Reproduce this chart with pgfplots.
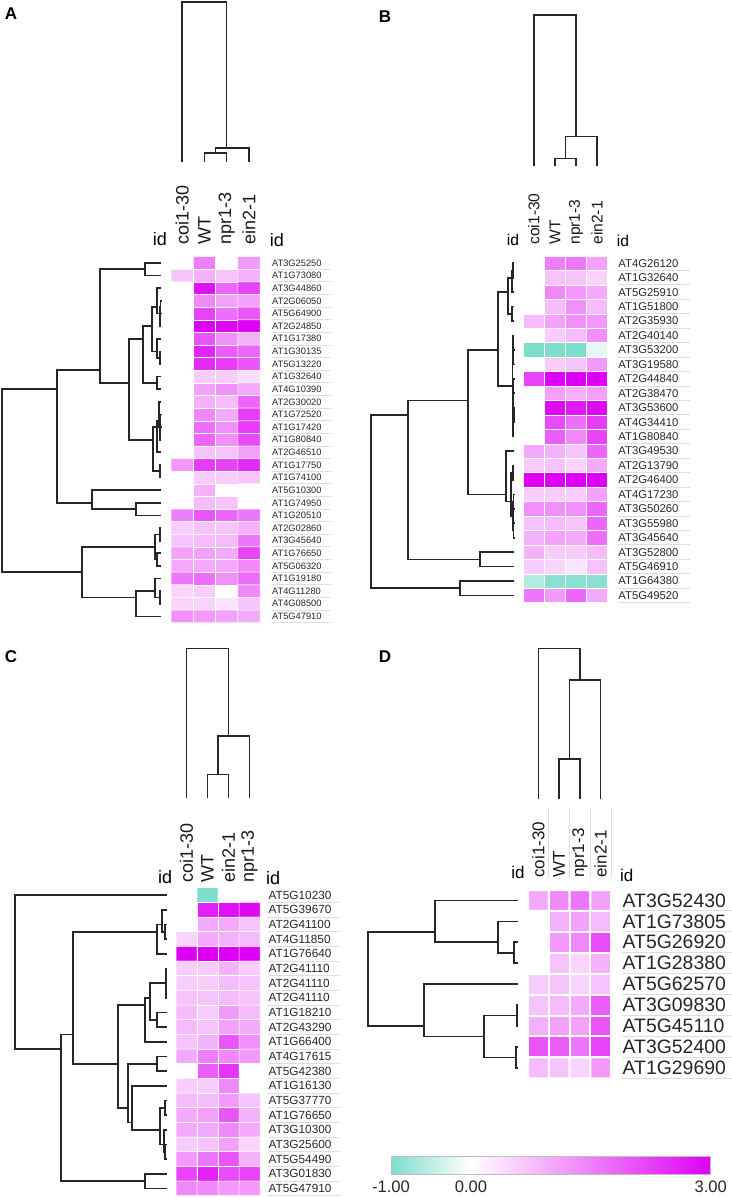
\documentclass[border=0pt]{standalone}
\usepackage{fontspec}
\setmainfont{Liberation Sans}
\usepackage{pgfplots}
\pgfplotsset{compat=1.18}
\usetikzlibrary{calc}

\pgfplotsset{
  colormap={hm}{rgb255(0cm)=(127,221,204) rgb255(1cm)=(255,255,255) rgb255(4cm)=(222,0,245)},
  heat/.style={scale only axis, anchor=north west, colormap name=hm,
    point meta min=-1, point meta max=3, y dir=reverse,
    xmin=-0.5, xmax=3.5, ymin=0.5, enlargelimits=false, clip=false,
    axis line style={draw=none}, major tick length=0pt, tick style={draw=none},
    xtick={0,1,2,3}, xticklabel pos=upper,
    xticklabel style={rotate=90, anchor=west, inner sep=0pt, text=black!90},
    yticklabel pos=upper,
    yticklabel style={anchor=west, inner sep=0pt, text=black!85}},
  dendro/.style={scale only axis, anchor=north west, hide axis, y dir=reverse,
    enlargelimits=false, clip=false},
  link/.style={color=black!85, line width=0.85pt, unbounded coords=jump, no marks},
  sepgrid/.style={scale only axis, anchor=north west, y dir=reverse, ymin=0.5,
    xmin=0, xmax=1, xtick=\empty, yticklabels={}, ymajorgrids,
    major grid style={black!13, line width=0.5pt},
    axis line style={draw=none}, tick style={draw=none}},
}

\begin{document}
\begin{tikzpicture}
\path[use as bounding box] (0pt,0pt) rectangle (366pt,-599pt);

% panel letters
\node[font=\bfseries\fontsize{8.5}{9}\selectfont] at (5.5pt,-7pt) {A};
\node[font=\bfseries\fontsize{8.5}{9}\selectfont] at (192.5pt,-8.5pt) {B};
\node[font=\bfseries\fontsize{8.5}{9}\selectfont] at (5.5pt,-328.5pt) {C};
\node[font=\bfseries\fontsize{8.5}{9}\selectfont] at (192.5pt,-328.5pt) {D};

%================ A ================
\begin{axis}[sepgrid, at={(135.5pt,-128.35pt)}, width=30pt, height=183pt,
  ymax=29.5, ytick={1.5,2.5,...,29.5}]
\end{axis}

\begin{axis}[dendro, at={(0pt,-128.35pt)}, width=85.5pt, height=183pt,
  xmin=0, xmax=171, ymin=0.5, ymax=29.5]
\addplot[link] coordinates {
(161,4)(160.5,4)(160.5,5)(161,5) (nan,nan)
(160.5,4.5)(160,4.5)(160,6)(161,6) (nan,nan)
(161,3)(156.7,3)(156.7,5)(160,5) (nan,nan)
(161,8)(160,8)(160,9)(161,9) (nan,nan)
(161,7)(156.7,7)(156.7,8.5)(160,8.5) (nan,nan)
(156.7,4.5)(151.7,4.5)(151.7,8)(156.7,8) (nan,nan)
(161,10)(157.3,10)(157.3,11)(161,11) (nan,nan)
(151.7,6)(143.3,6)(143.3,10.5)(157.3,10.5) (nan,nan)
(161,13)(160.5,13)(160.5,14)(161,14) (nan,nan)
(160.5,13.5)(160,13.5)(160,15)(161,15) (nan,nan)
(161,12)(159,12)(159,14)(160,14) (nan,nan)
(159,13.5)(157,13.5)(157,16)(161,16) (nan,nan)
(161,17)(160,17)(160,18)(161,18) (nan,nan)
(157,14)(152.7,14)(152.7,17.5)(160,17.5) (nan,nan)
(143.3,7)(129.3,7)(129.3,15)(152.7,15) (nan,nan)
(161,1)(145,1)(145,2)(161,2) (nan,nan)
(145,1.5)(100,1.5)(100,10.5)(129.3,10.5) (nan,nan)
(161,20)(136,20)(136,21)(161,21) (nan,nan)
(161,19)(92,19)(92,20.5)(136,20.5) (nan,nan)
(100,9.5)(56.7,9.5)(56.7,20)(92,20) (nan,nan)
(161,22)(160,22)(160,23)(161,23) (nan,nan)
(161,24)(157.3,24)(157.3,25)(161,25) (nan,nan)
(160,22.5)(155,22.5)(155,24.5)(157.3,24.5) (nan,nan)
(161,27)(160,27)(160,28)(161,28) (nan,nan)
(161,26)(155,26)(155,27.5)(160,27.5) (nan,nan)
(155,27)(136,27)(136,29)(161,29) (nan,nan)
(155,23.5)(82,23.5)(82,27.5)(136,27.5) (nan,nan)
(56.7,11)(1.7,11)(1.7,25.5)(82,25.5)
};
\end{axis}

\begin{axis}[dendro, at={(85.5pt,0pt)}, width=44.5pt, height=81pt,
  xmin=-0.5, xmax=3.5, ymin=0, ymax=162]
\addplot[link, line width=0.7pt] coordinates {
(1,162)(1,153)(2,153)(2,162) (nan,nan)
(1.5,153)(1.5,148)(3,148)(3,162) (nan,nan)
(0,162)(0,2)(2,2)(2,148)
};
\end{axis}

\begin{axis}[heat, at={(85.5pt,-128.35pt)}, width=44.5pt, height=183pt, ymax=29.5,
  xticklabels={coi1-30,WT,npr1-3,ein2-1}, xticklabel shift=5.85pt,
  xticklabel style={font=\fontsize{9}{9}\selectfont},
  ytick={1,...,29}, yticklabel shift=5.85pt,
  yticklabel style={font=\fontsize{4.65}{5}\selectfont},
  yticklabels={AT3G25250,AT1G73080,AT3G44860,AT2G06050,AT5G64900,AT2G24850,
    AT1G17380,AT1G30135,AT5G13220,AT1G32640,AT4G10390,AT2G30020,AT1G72520,
    AT1G17420,AT1G80840,AT2G46510,AT1G17750,AT1G74100,AT5G10300,AT1G74950,
    AT1G20510,AT2G02860,AT3G45640,AT1G76650,AT5G06320,AT1G19180,AT4G11280,
    AT4G08500,AT5G47910}]
\addplot[matrix plot*, mesh/cols=4, point meta=explicit, draw=white, line width=0.25pt]
  table[meta=c, row sep=\\] {x y c\\
0 1 0\\ 1 1 1.5\\ 2 1 0\\ 3 1 1.2\\
0 2 0.7\\ 1 2 0.9\\ 2 2 0.7\\ 3 2 0.9\\
0 3 0\\ 1 3 2.8\\ 2 3 1.8\\ 3 3 2.2\\
0 4 0\\ 1 4 1.4\\ 2 4 1.1\\ 3 4 1.1\\
0 5 0\\ 1 5 2.2\\ 2 5 1.7\\ 3 5 2.0\\
0 6 0\\ 1 6 3.0\\ 2 6 2.9\\ 3 6 3.0\\
0 7 0\\ 1 7 2.0\\ 2 7 1.3\\ 3 7 0.9\\
0 8 0\\ 1 8 2.6\\ 2 8 1.9\\ 3 8 1.8\\
0 9 0\\ 1 9 2.5\\ 2 9 2.3\\ 3 9 2.0\\
0 10 0\\ 1 10 0.6\\ 2 10 0.6\\ 3 10 0.4\\
0 11 0\\ 1 11 1.1\\ 2 11 1.3\\ 3 11 1.0\\
0 12 0\\ 1 12 0.9\\ 2 12 0.8\\ 3 12 1.8\\
0 13 0\\ 1 13 1.4\\ 2 13 1.0\\ 3 13 2.3\\
0 14 0\\ 1 14 1.7\\ 2 14 1.3\\ 3 14 2.3\\
0 15 0\\ 1 15 1.8\\ 2 15 1.3\\ 3 15 2.1\\
0 16 0\\ 1 16 0.7\\ 2 16 0.7\\ 3 16 1.1\\
0 17 1.2\\ 1 17 2.3\\ 2 17 2.2\\ 3 17 2.5\\
0 18 0\\ 1 18 0.6\\ 2 18 0.6\\ 3 18 0.7\\
0 19 0\\ 1 19 0.9\\ 2 19 0\\ 3 19 0\\
0 20 0\\ 1 20 0.8\\ 2 20 0.7\\ 3 20 0\\
0 21 1.5\\ 1 21 2.0\\ 2 21 1.8\\ 3 21 1.6\\
0 22 0.6\\ 1 22 0.7\\ 2 22 0.7\\ 3 22 0.9\\
0 23 0.7\\ 1 23 0.8\\ 2 23 0.8\\ 3 23 1.6\\
0 24 1.1\\ 1 24 1.1\\ 2 24 1.0\\ 3 24 2.2\\
0 25 1.0\\ 1 25 1.0\\ 2 25 1.0\\ 3 25 1.4\\
0 26 1.6\\ 1 26 1.7\\ 2 26 1.3\\ 3 26 1.7\\
0 27 0.5\\ 1 27 0.6\\ 2 27 0\\ 3 27 1.4\\
0 28 0.5\\ 1 28 0.5\\ 2 28 0.3\\ 3 28 0.7\\
0 29 1.3\\ 1 29 1.2\\ 2 29 1.1\\ 3 29 1.0\\
};
\node[font=\fontsize{9}{9}\selectfont, anchor=base, yshift=5.85pt] at (axis cs:-1,0.5) {id};
\node[font=\fontsize{9}{9}\selectfont, anchor=base, yshift=5pt] at (axis cs:4.26,0.5) {id};
\end{axis}

%================ B ================
\begin{axis}[sepgrid, at={(309pt,-128pt)}, width=36pt, height=173.35pt,
  ymax=24.5, ytick={1.5,2.5,...,24.5}]
\end{axis}

\begin{axis}[dendro, at={(185pt,-128pt)}, width=76.65pt, height=173.35pt,
  xmin=370, xmax=523.3, ymin=0.5, ymax=24.5]
\addplot[link] coordinates {
(514,1)(513,1)(513,2)(514,2) (nan,nan)
(513,1.5)(511.7,1.5)(511.7,3)(514,3) (nan,nan)
(514,4)(511.7,4)(511.7,5)(514,5) (nan,nan)
(511.7,2)(508.3,2)(508.3,4.5)(511.7,4.5) (nan,nan)
(514,7)(513.5,7)(513.5,8)(514,8) (nan,nan)
(514,6)(513,6)(513,7.5)(513.5,7.5) (nan,nan)
(514,9)(513.5,9)(513.5,10)(514,10) (nan,nan)
(514,11)(513.8,11)(513.8,12)(514,12) (nan,nan)
(513.8,11.5)(513.3,11.5)(513.3,13)(514,13) (nan,nan)
(513.5,9.5)(513,9.5)(513,12)(513.3,12) (nan,nan)
(513,7)(512.5,7)(512.5,11)(513,11) (nan,nan)
(508.3,3)(497.7,3)(497.7,9.5)(512.5,9.5) (nan,nan)
(514,15)(513,15)(513,16)(514,16) (nan,nan)
(514,17)(513.5,17)(513.5,18)(514,18) (nan,nan)
(514,19)(513.5,19)(513.5,20)(514,20) (nan,nan)
(513.5,17.5)(513,17.5)(513,19.5)(513.5,19.5) (nan,nan)
(513,15.5)(511,15.5)(511,18.5)(513,18.5) (nan,nan)
(514,14)(506,14)(506,17.5)(511,17.5) (nan,nan)
(497.7,7)(467.7,7)(467.7,17)(506,17) (nan,nan)
(514,21)(480,21)(480,22)(514,22) (nan,nan)
(467.7,10.5)(408.3,10.5)(408.3,21.5)(480,21.5) (nan,nan)
(514,23)(460,23)(460,24)(514,24) (nan,nan)
(408.3,11.5)(371,11.5)(371,23.5)(460,23.5)
};
\end{axis}

\begin{axis}[dendro, at={(261.65pt,0pt)}, width=42.2pt, height=82.85pt,
  xmin=-0.5, xmax=3.5, ymin=0, ymax=165.7]
\addplot[link, line width=0.7pt] coordinates {
(1,165.7)(1,158.3)(2,158.3)(2,165.7) (nan,nan)
(1.5,158.3)(1.5,136.7)(3,136.7)(3,165.7) (nan,nan)
(0,165.7)(0,15)(2,15)(2,136.7)
};
\end{axis}

\begin{axis}[heat, at={(261.65pt,-128pt)}, width=42.2pt, height=173.35pt, ymax=24.5,
  xticklabels={coi1-30,WT,npr1-3,ein2-1}, xticklabel shift=5.5pt,
  xticklabel style={font=\fontsize{7.8}{8}\selectfont},
  ytick={1,...,24}, yticklabel shift=5.15pt,
  yticklabel style={font=\fontsize{5.65}{6}\selectfont},
  yticklabels={AT4G26120,AT1G32640,AT5G25910,AT1G51800,AT2G35930,AT2G40140,
    AT3G53200,AT3G19580,AT2G44840,AT2G38470,AT3G53600,AT4G34410,AT1G80840,
    AT3G49530,AT2G13790,AT2G46400,AT4G17230,AT3G50260,AT3G55980,AT3G45640,
    AT3G52800,AT5G46910,AT1G64380,AT5G49520}]
\addplot[matrix plot*, mesh/cols=4, point meta=explicit, draw=white, line width=0.25pt]
  table[meta=c, row sep=\\] {x y c\\
0 1 0\\ 1 1 1.5\\ 2 1 1.6\\ 3 1 1.1\\
0 2 0\\ 1 2 0.7\\ 2 2 0.7\\ 3 2 0.5\\
0 3 0\\ 1 3 1.4\\ 2 3 1.2\\ 3 3 1.0\\
0 4 0\\ 1 4 0.8\\ 2 4 1.3\\ 3 4 0.8\\
0 5 0.8\\ 1 5 1.1\\ 2 5 1.3\\ 3 5 1.2\\
0 6 0\\ 1 6 0.6\\ 2 6 0.8\\ 3 6 1.3\\
0 7 -1.0\\ 1 7 -1.0\\ 2 7 -1.0\\ 3 7 -0.2\\
0 8 0\\ 1 8 0.6\\ 2 8 0.7\\ 3 8 1.2\\
0 9 2.2\\ 1 9 3.0\\ 2 9 3.0\\ 3 9 3.0\\
0 10 0\\ 1 10 1.1\\ 2 10 0.9\\ 3 10 1.1\\
0 11 0\\ 1 11 2.9\\ 2 11 2.7\\ 3 11 2.9\\
0 12 0\\ 1 12 2.1\\ 2 12 1.7\\ 3 12 2.3\\
0 13 0\\ 1 13 1.9\\ 2 13 1.4\\ 3 13 2.2\\
0 14 1.0\\ 1 14 0.9\\ 2 14 0.7\\ 3 14 1.8\\
0 15 0.6\\ 1 15 0.7\\ 2 15 0.5\\ 3 15 1.0\\
0 16 3.0\\ 1 16 3.0\\ 2 16 3.0\\ 3 16 3.0\\
0 17 0.6\\ 1 17 0.6\\ 2 17 0.6\\ 3 17 1.1\\
0 18 1.3\\ 1 18 1.3\\ 2 18 1.3\\ 3 18 1.8\\
0 19 0.7\\ 1 19 0.8\\ 2 19 0.7\\ 3 19 1.8\\
0 20 0.9\\ 1 20 1.1\\ 2 20 1.0\\ 3 20 1.7\\
0 21 0.9\\ 1 21 0.6\\ 2 21 0.6\\ 3 21 0.8\\
0 22 0.6\\ 1 22 0.5\\ 2 22 0.3\\ 3 22 0.7\\
0 23 -0.6\\ 1 23 -0.9\\ 2 23 -0.9\\ 3 23 -0.9\\
0 24 1.6\\ 1 24 1.2\\ 2 24 1.8\\ 3 24 1.0\\
};
\node[font=\fontsize{7.8}{8}\selectfont, anchor=base, yshift=5.5pt] at (axis cs:-0.99,0.5) {id};
\node[font=\fontsize{7.8}{8}\selectfont, anchor=base, yshift=5pt] at (axis cs:4.22,0.5) {id};
\end{axis}

%================ C ================
\begin{axis}[sepgrid, at={(134.15pt,-443.85pt)}, width=36pt, height=154pt,
  ymax=21.5, ytick={1.5,2.5,...,21.5}]
\end{axis}

\begin{axis}[dendro, at={(0pt,-443.85pt)}, width=88pt, height=154pt,
  xmin=0, xmax=176, ymin=0.5, ymax=21.5]
\addplot[link] coordinates {
(166.7,3)(165,3)(165,4)(166.7,4) (nan,nan)
(166.7,2)(162,2)(162,3.5)(165,3.5) (nan,nan)
(162,3)(157,3)(157,5)(166.7,5) (nan,nan)
(166.7,6)(166.3,6)(166.3,7)(166.7,7) (nan,nan)
(166.3,6.5)(166,6.5)(166,8)(166.7,8) (nan,nan)
(166.7,9)(156.7,9)(156.7,10)(166.7,10) (nan,nan)
(166,7)(150,7)(150,9.5)(156.7,9.5) (nan,nan)
(150,8)(145,8)(145,11)(166.7,11) (nan,nan)
(166.7,12)(156.7,12)(156.7,13)(166.7,13) (nan,nan)
(166.7,15)(165,15)(165,16)(166.7,16) (nan,nan)
(166.7,18)(165,18)(165,19)(166.7,19) (nan,nan)
(166.7,17)(164,17)(164,18.5)(165,18.5) (nan,nan)
(165,15.5)(160,15.5)(160,18)(164,18) (nan,nan)
(166.7,14)(131.7,14)(131.7,17)(160,17) (nan,nan)
(156.7,12.5)(128.3,12.5)(128.3,16.5)(131.7,16.5) (nan,nan)
(145,8.5)(118.3,8.5)(118.3,15.5)(128.3,15.5) (nan,nan)
(157,3.5)(73.3,3.5)(73.3,12.5)(118.3,12.5) (nan,nan)
(166.7,20)(145,20)(145,21)(166.7,21) (nan,nan)
(73.3,10.5)(61,10.5)(61,20.5)(145,20.5) (nan,nan)
(166.7,1)(15,1)(15,11.5)(61,11.5)
};
\end{axis}

\begin{axis}[dendro, at={(88pt,-320pt)}, width=42pt, height=79.15pt,
  xmin=-0.5, xmax=3.5, ymin=640, ymax=798.3]
\addplot[link, line width=0.7pt] coordinates {
(1,798.3)(1,774.3)(2,774.3)(2,798.3) (nan,nan)
(1.5,774.3)(1.5,736)(3,736)(3,798.3) (nan,nan)
(0,798.3)(0,648.3)(2,648.3)(2,736)
};
\end{axis}

\begin{axis}[heat, at={(88pt,-443.85pt)}, width=42pt, height=154pt, ymax=21.5,
  xticklabels={coi1-30,WT,ein2-1,npr1-3}, xticklabel shift=2.3pt,
  xticklabel style={font=\fontsize{9}{9}\selectfont},
  ytick={1,...,21}, yticklabel shift=4.15pt,
  yticklabel style={font=\fontsize{5.9}{6}\selectfont},
  yticklabels={AT5G10230,AT5G39670,AT2G41100,AT4G11850,AT1G76640,AT2G41110,
    AT2G41110,AT2G41110,AT1G18210,AT2G43290,AT1G66400,AT4G17615,AT5G42380,
    AT1G16130,AT5G37770,AT1G76650,AT3G10300,AT3G25600,AT5G54490,AT3G01830,
    AT5G47910}]
\addplot[matrix plot*, mesh/cols=4, point meta=explicit, draw=white, line width=0.25pt]
  table[meta=c, row sep=\\] {x y c\\
0 1 0\\ 1 1 -1.0\\ 2 1 0\\ 3 1 0\\
0 2 0\\ 1 2 2.6\\ 2 2 2.8\\ 3 2 2.9\\
0 3 0\\ 1 3 1.0\\ 2 3 1.0\\ 3 3 0.7\\
0 4 0.5\\ 1 4 1.0\\ 2 4 0.9\\ 3 4 0.8\\
0 5 3.0\\ 1 5 3.0\\ 2 5 3.0\\ 3 5 3.0\\
0 6 0.6\\ 1 6 0.6\\ 2 6 0.9\\ 3 6 0.6\\
0 7 0.6\\ 1 7 0.6\\ 2 7 0.8\\ 3 7 0.7\\
0 8 0.7\\ 1 8 0.7\\ 2 8 0.8\\ 3 8 0.7\\
0 9 0.8\\ 1 9 0.6\\ 2 9 1.2\\ 3 9 0.8\\
0 10 0.8\\ 1 10 0.7\\ 2 10 1.1\\ 3 10 1.0\\
0 11 0.7\\ 1 11 0.9\\ 2 11 2.0\\ 3 11 1.3\\
0 12 1.0\\ 1 12 1.5\\ 2 12 1.4\\ 3 12 1.2\\
0 13 0\\ 1 13 1.9\\ 2 13 2.4\\ 3 13 0\\
0 14 0.6\\ 1 14 0.6\\ 2 14 1.4\\ 3 14 0\\
0 15 0.8\\ 1 15 0.8\\ 2 15 1.2\\ 3 15 0.7\\
0 16 1.0\\ 1 16 1.1\\ 2 16 2.0\\ 3 16 0.9\\
0 17 1.0\\ 1 17 1.0\\ 2 17 1.4\\ 3 17 1.0\\
0 18 0.6\\ 1 18 0.7\\ 2 18 1.1\\ 3 18 0.5\\
0 19 1.2\\ 1 19 1.6\\ 2 19 2.0\\ 3 19 0.9\\
0 20 2.2\\ 1 20 2.6\\ 2 20 2.1\\ 3 20 2.2\\
0 21 1.4\\ 1 21 1.4\\ 2 21 1.2\\ 3 21 1.2\\
};
\node[font=\fontsize{9}{9}\selectfont, anchor=base, yshift=2.3pt] at (axis cs:-1.02,0.5) {id};
\node[font=\fontsize{9}{9}\selectfont, anchor=base, yshift=1.5pt] at (axis cs:4.12,0.5) {id};
\end{axis}

%================ D ================
\begin{axis}[sepgrid, at={(311.15pt,-445pt)}, width=54.85pt, height=94.15pt,
  ymax=9.5, ytick={1.5,2.5,...,9.5}]
\end{axis}

\begin{axis}[sepgrid, at={(264pt,-404pt)}, width=41.5pt, height=35pt,
  ymax=1.5, ytick=\empty, ymajorgrids=false, xmin=-0.5, xmax=3.5,
  xtick={0.5,1.5,2.5,3.5}, xticklabels={}, xmajorgrids]
\end{axis}

\begin{axis}[dendro, at={(183pt,-445pt)}, width=81pt, height=94.15pt,
  xmin=366, xmax=528, ymin=0.5, ymax=9.5]
\addplot[link] coordinates {
(517.7,3)(514,3)(514,4)(517.7,4) (nan,nan)
(517.7,2)(498.3,2)(498.3,3.5)(514,3.5) (nan,nan)
(517.7,1)(435,1)(435,3)(498.3,3) (nan,nan)
(517.7,6)(517.3,6)(517.3,7)(517.7,7) (nan,nan)
(517.7,8)(515.7,8)(515.7,9)(517.7,9) (nan,nan)
(517.3,6.5)(484.3,6.5)(484.3,8.5)(515.7,8.5) (nan,nan)
(517.7,5)(424.3,5)(424.3,7.5)(484.3,7.5) (nan,nan)
(435,2.5)(368,2.5)(368,7)(424.3,7)
};
\end{axis}

\begin{axis}[dendro, at={(264pt,-320pt)}, width=41.5pt, height=79.5pt,
  xmin=-0.5, xmax=3.5, ymin=640, ymax=799]
\addplot[link, line width=0.7pt] coordinates {
(1,799)(1,759)(2,759)(2,799) (nan,nan)
(1.5,759)(1.5,680)(3,680)(3,799) (nan,nan)
(0,799)(0,648.3)(2,648.3)(2,680)
};
\end{axis}

\begin{axis}[heat, at={(264pt,-445pt)}, width=41.5pt, height=94.15pt, ymax=9.5,
  xticklabels={coi1-30,WT,npr1-3,ein2-1}, xticklabel shift=6pt,
  xticklabel style={font=\fontsize{8.5}{9}\selectfont},
  ytick={1,...,9}, yticklabel shift=5.65pt,
  yticklabel style={font=\fontsize{9.7}{10}\selectfont},
  yticklabels={AT3G52430,AT1G73805,AT5G26920,AT1G28380,AT5G62570,AT3G09830,
    AT5G45110,AT3G52400,AT1G29690},
  colorbar horizontal,
  colorbar style={at={($(parent axis.south west)+(-68.5pt,-30.5pt)$)},
    anchor=north west, scale only axis, width=159.85pt, height=9.2pt,
    y dir=normal, ytick=\empty, xtick={-1,0,3}, xticklabels={-1.00,0.00,3.00},
    xticklabel pos=lower, major tick length=0pt, tick style={draw=none},
    axis line style={black!25},
    xticklabel style={rotate=0, anchor=north, inner sep=0pt, text=black!85,
      font=\fontsize{8.3}{9}\selectfont},
    xticklabel shift=3pt}]
\addplot[matrix plot*, mesh/cols=4, point meta=explicit, draw=white, line width=1pt]
  table[meta=c, row sep=\\] {x y c\\
0 1 1.0\\ 1 1 1.4\\ 2 1 1.6\\ 3 1 1.1\\
0 2 0\\ 1 2 0.9\\ 2 2 1.1\\ 3 2 0.8\\
0 3 0\\ 1 3 1.2\\ 2 3 1.4\\ 3 3 2.1\\
0 4 0\\ 1 4 0.7\\ 2 4 0.5\\ 3 4 0.9\\
0 5 0.6\\ 1 5 0.7\\ 2 5 0.5\\ 3 5 0.7\\
0 6 0.7\\ 1 6 0.8\\ 2 6 1.0\\ 3 6 1.9\\
0 7 0.9\\ 1 7 1.1\\ 2 7 1.1\\ 3 7 2.0\\
0 8 2.0\\ 1 8 1.9\\ 2 8 1.6\\ 3 8 2.2\\
0 9 0.8\\ 1 9 0.7\\ 2 9 0.5\\ 3 9 1.2\\
};
\node[font=\fontsize{8.5}{9}\selectfont, anchor=base, yshift=6pt] at (axis cs:-0.98,0.5) {id};
\node[font=\fontsize{8.5}{9}\selectfont, anchor=base, yshift=4.5pt] at (axis cs:4.26,0.5) {id};
\end{axis}
\end{tikzpicture}
\end{document}
